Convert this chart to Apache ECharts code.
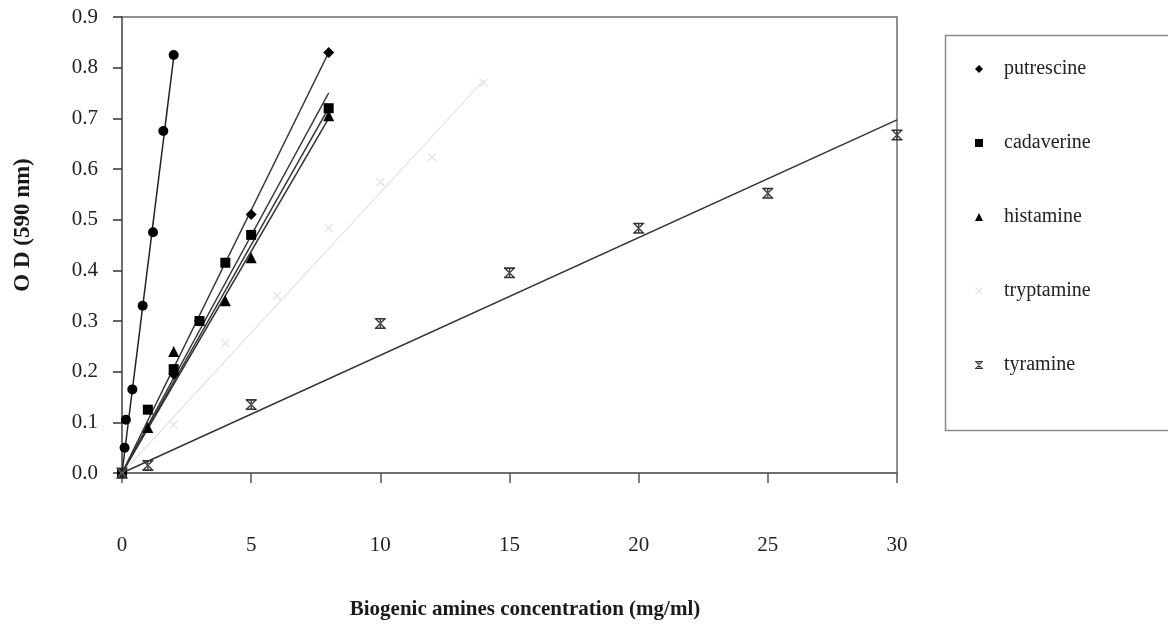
<!DOCTYPE html>
<html>
<head>
<meta charset="utf-8">
<script src="https://cdn.jsdelivr.net/npm/echarts@6/dist/echarts.min.js"></script>
<style>
  html, body { margin: 0; padding: 0; background: #fff; }
  #chart { width: 1168px; height: 626px; }
</style>
</head>
<body>
<div id="chart"></div>
<script>
// Standard curves: OD at 590 nm against biogenic amine concentration (mg/ml)
const legendNames = ['putrescine', 'cadaverine', 'histamine', 'tryptamine', 'tyramine'];
const xTitle = 'Biogenic amines concentration (mg/ml)';
const yTitle = 'O D (590 nm)';

// low-range putrescine points (steep curve)
const lowX = [0, 0.1, 0.15, 0.4, 0.8, 1.2, 1.6, 2.0];
const lowY = [0, 0.05, 0.105, 0.165, 0.33, 0.475, 0.675, 0.825];

const putrescineX = [0, 2, 3, 5, 8];
const putrescineY = [0, 0.195, 0.30, 0.51, 0.83];

const cadaverineX = [0, 1, 2, 3, 4, 5, 8];
const cadaverineY = [0, 0.125, 0.205, 0.30, 0.415, 0.47, 0.72];

const histamineX = [0, 1, 2, 4, 5, 8];
const histamineY = [0, 0.09, 0.24, 0.34, 0.425, 0.705];

const tryptamineX = [0, 2, 4, 6, 8, 10, 12, 14];
const tryptamineY = [0, 0.095, 0.256, 0.35, 0.483, 0.574, 0.623, 0.77];

const tyramineX = [0, 1, 5, 10, 15, 20, 25, 30];
const tyramineY = [0, 0.015, 0.135, 0.295, 0.395, 0.483, 0.552, 0.667];

// fitted straight lines, each from the origin to [x, y]
const lowFit = [2.0, 0.82];
const putrescineFit = [8, 0.83];
const cadaverineFit = [8, 0.75];
const cadaverineFit2 = [8, 0.72];
const histamineFit = [8, 0.70];
const tryptamineFit = [14, 0.775];
const tyramineFit = [30, 0.697];

const zip = (xs, ys) => xs.map((x, i) => [x, ys[i]]);
const fitLine = (end) => [[0, 0], end];

const ink = '#1a1a1a';
const serif = '"Liberation Serif", "DejaVu Serif", serif';

// hourglass-with-cross marker used for tyramine
const tyramineSymbol = 'path://M0 0H10V1.4H0Z M0 8.6H10V10H0Z M0.6 1.4H2.3L9.4 8.6H7.7Z M9.4 1.4H7.7L0.6 8.6H2.3Z M4.4 1.4H5.6V8.6H4.4Z';
const crossSymbol = 'path://M0 1.2L1.2 0L10 8.8L8.8 10Z M8.8 0L10 1.2L1.2 10L0 8.8Z';

function scatter(name, data, symbol, size, color) {
  return {
    name, type: 'scatter', data, symbol, symbolSize: size,
    itemStyle: { color, opacity: 1 }, z: 4, silent: true
  };
}
function line(data, color, width) {
  return {
    type: 'line', data, symbol: 'none', silent: true,
    lineStyle: { color, width }, z: 3
  };
}

const chart = echarts.init(document.getElementById('chart'), null, { renderer: 'canvas' });
chart.setOption({
  animation: false,
  backgroundColor: '#fff',
  grid: {
    left: 122, right: 271, top: 17, bottom: 153,
    outerBoundsMode: 'none', containLabel: false,
    show: true, borderColor: '#6e6e6e', borderWidth: 1.5, backgroundColor: 'transparent'
  },
  xAxis: {
    type: 'value', min: 0, max: 30, interval: 5,
    axisLine: { show: true, lineStyle: { color: '#6e6e6e', width: 2 } },
    axisTick: { show: true, inside: false, length: 10, lineStyle: { color: '#555', width: 1.5 } },
    axisLabel: { margin: 62, fontFamily: serif, fontSize: 21, color: '#222' },
    splitLine: { show: false }
  },
  yAxis: {
    type: 'value', min: 0, max: 0.9, interval: 0.1,
    axisLine: { show: true, lineStyle: { color: '#6e6e6e', width: 2 } },
    axisTick: { show: true, inside: false, length: 9, lineStyle: { color: '#333', width: 1.5 } },
    axisLabel: { margin: 24, fontFamily: serif, fontSize: 21, color: '#222',
      formatter: v => v.toFixed(1) },
    splitLine: { show: false }
  },
  legend: {
    data: legendNames,
    orient: 'vertical',
    left: 970, top: 54,
    itemWidth: 8, itemHeight: 8,
    itemGap: 54,
    textStyle: { fontFamily: serif, fontSize: 20, color: '#222', padding: [0, 0, 0, 16] },
    selectedMode: false
  },
  graphic: [{
    type: 'rect', left: 943, top: 33, silent: true,
    shape: { width: 240, height: 395 },
    style: { fill: 'none', stroke: '#8a8a8a', lineWidth: 1.5 }, z: -1
  }, {
    type: 'text', x: 525, y: 610, silent: true,
    style: { text: xTitle, fontFamily: serif, fontWeight: 'bold', fontSize: 21,
      fill: ink, align: 'center', verticalAlign: 'middle' }
  }, {
    type: 'text', x: 23, y: 225, rotation: Math.PI / 2, silent: true,
    style: { text: yTitle, fontFamily: serif, fontWeight: 'bold', fontSize: 23,
      fill: ink, align: 'center', verticalAlign: 'middle' }
  }],
  series: [
    line(fitLine(lowFit), '#222', 1.5),
    line(fitLine(putrescineFit), '#333', 1.5),
    line(fitLine(cadaverineFit), '#333', 1.5),
    line(fitLine(cadaverineFit2), '#333', 1.5),
    line(fitLine(histamineFit), '#333', 1.5),
    line(fitLine(tryptamineFit), '#e4e4e4', 1.2),
    line(fitLine(tyramineFit), '#333', 1.5),
    scatter('putrescine (low range)', zip(lowX, lowY), 'circle', 10, '#000'),
    scatter('putrescine', zip(putrescineX, putrescineY), 'diamond', 11, '#000'),
    scatter('cadaverine', zip(cadaverineX, cadaverineY), 'rect', 10, '#000'),
    scatter('histamine', zip(histamineX, histamineY), 'triangle', 11, '#000'),
    scatter('tryptamine', zip(tryptamineX, tryptamineY), crossSymbol, 9, '#e6e6e6'),
    scatter('tyramine', zip(tyramineX, tyramineY), tyramineSymbol, 11, '#333')
  ]
});
</script>
</body>
</html>
